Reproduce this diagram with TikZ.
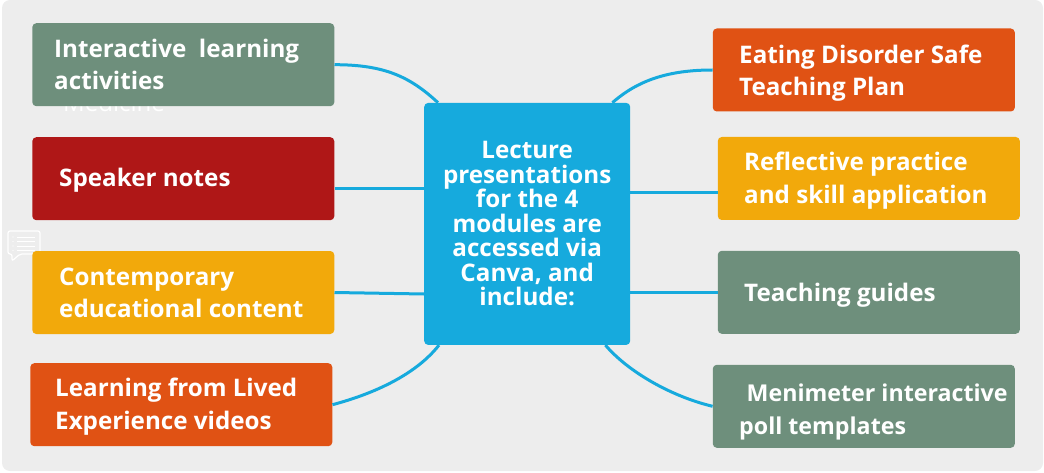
\documentclass[tikz,border=0pt]{standalone}
\usepackage{fontspec}
\setmainfont{Open Sans}
\definecolor{bgc}{HTML}{EDEDED}
\definecolor{sage}{HTML}{6E8F7C}
\definecolor{crimson}{HTML}{AF1717}
\definecolor{amber}{HTML}{F2A90B}
\definecolor{rust}{HTML}{E05214}
\definecolor{sky}{HTML}{16AADD}
\tikzset{
  box/.style={rounded corners=4pt, inner sep=0pt, minimum width=302pt, minimum height=83pt},
  txt/.style={text=white, inner sep=0pt, align=left, anchor=base west,
    font=\fontsize{24.2pt}{32.5pt}\selectfont\bfseries},
  ctxt/.style={text=white, inner sep=0pt, align=center,
    font=\fontsize{24.2pt}{24.5pt}\selectfont\bfseries},
  link/.style={draw=sky, line width=3pt}
}
\begin{document}
\begin{tikzpicture}[x=1pt,y=-1pt]
\useasboundingbox (0,0) rectangle (1044,473);
\fill[bgc, rounded corners=8pt] (2,0) rectangle (1043,471);
% comment icon
\draw[white, line width=1.2pt, rounded corners=2pt] (12,254) -- (8,254) -- (8,231) -- (40,231) -- (40,254) -- (20,254) -- (12,261) -- cycle;
\foreach \yy in {237,241.5,246,250.5}{
  \draw[white, line width=0.9pt] (17,\yy) -- (35,\yy);
  \fill[white] (13,\yy) circle (0.7pt);
}
% ghost text
\node[text=white, inner sep=0pt, anchor=base west, font=\fontsize{24pt}{27pt}\selectfont] (ghost) at (63,112) {Medicine};
% boxes
\node[box, fill=sage] (a1) at (183.3,64.7) {};
\node[box, fill=crimson] (a2) at (183.3,178.7) {};
\node[box, fill=amber] (a3) at (183.3,292.5) {};
\node[box, fill=rust] (a4) at (181.3,404.7) {};
\node[box, fill=rust] (b1) at (863.8,70) {};
\node[box, fill=amber] (b2) at (868.8,178.5) {};
\node[box, fill=sage] (b3) at (868.8,292.3) {};
\node[box, fill=sage] (b4) at (863.8,406.3) {};
\node[rounded corners=4pt, fill=sky, inner sep=0pt, minimum width=206pt, minimum height=242pt] (c) at (527.2,223.9) {};
% connectors
\draw[link] (a1.east) .. controls +(50,0) and +(-28,-26) .. ([xshift=14pt]c.north west);
\draw[link] ([yshift=-9.5pt]a2.east) -- ([yshift=-9.5pt]a2.east -| c.west);
\draw[link] (a3.east) -- ([yshift=-1.5pt]a3.east -| c.west);
\draw[link] (a4.east) .. controls +(45,-12) and +(-22,28) .. ([xshift=15pt]c.south west);
\draw[link] ([xshift=-18pt]c.north east) .. controls +(25,-22) and +(-45,0) .. (b1.west);
\draw[link] ([yshift=31.2pt]c.east) -- ([yshift=31.2pt]c.east -| b2.west);
\draw[link] ([yshift=-68.6pt]c.east) -- ([yshift=-68.6pt]c.east -| b3.west);
\draw[link] ([xshift=-25pt]c.south east) .. controls +(22,26) and +(-42,-10) .. (b4.west);
% texts
\node[txt] (t1) at (54,90) {Interactive\ \ learning\\activities};
\node[txt] (t2) at (59,186.7) {Speaker notes};
\node[txt] (t3) at (59,317.7) {Contemporary\\educational content};
\node[txt] (t4) at (55,429) {Learning from Lived\\Experience videos};
\node[txt] (u1) at (739,95.7) {Eating Disorder Safe\\Teaching Plan};
\node[txt] (u2) at (744,203.3) {Reflective practice\\and skill application};
\node[txt] (u3) at (744,301) {Teaching guides};
\node[txt, font=\fontsize{23.2pt}{32.5pt}\selectfont\bfseries] (u4) at (739,434) {\hspace*{7.5pt}Menimeter interactive\\poll templates};
\node[ctxt] (ct) at (c.center) {Lecture\\presentations\\for the 4\\modules are\\accessed via\\Canva, and\\include:};
\end{tikzpicture}
\end{document}
